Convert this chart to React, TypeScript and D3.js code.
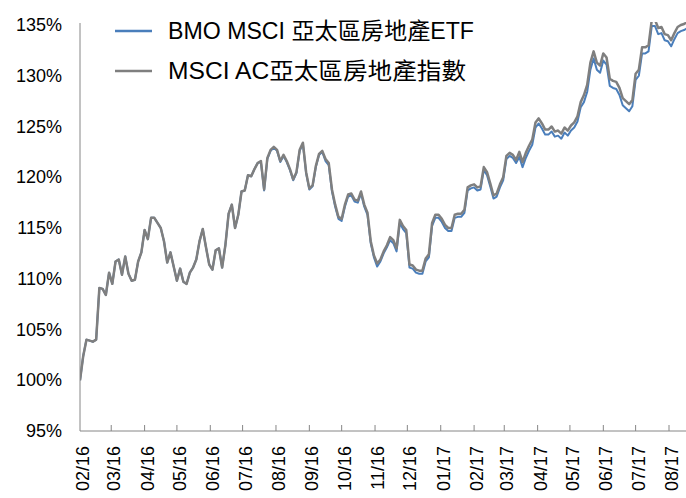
import * as d3 from "d3";
import { useEffect, useRef } from "react";

// sampled every 3 calendar days from 2016-02-01
const START = "2016-02-01";
const STEP_DAYS = 3;

const indexValues = [
  100.0, 102.4, 104.0, 103.9, 103.8, 104.0, 109.1, 109.0, 108.4, 110.6,
  109.5, 111.7, 111.9, 110.4, 112.2, 110.5, 109.8, 109.9, 111.7, 112.6,
  114.8, 113.9, 116.0, 116.0, 115.5, 115.0, 113.7, 111.6, 112.6, 111.2,
  109.8, 111.0, 109.7, 109.5, 110.6, 111.1, 111.9, 113.7, 114.9, 113.1,
  111.4, 110.9, 112.8, 113.0, 111.1, 113.3, 116.4, 117.3, 115.0, 116.3,
  118.6, 118.7, 120.2, 120.1, 120.8, 121.4, 121.6, 118.8, 121.9, 122.7,
  123.0, 122.7, 121.6, 122.2, 121.6, 120.8, 119.8, 120.5, 122.7, 123.4,
  120.5, 118.9, 119.2, 121.1, 122.3, 122.6, 121.8, 121.4, 118.8, 117.3,
  116.1, 115.9, 117.3, 118.3, 118.4, 117.8, 117.7, 118.6, 117.3, 116.5,
  113.7, 112.3, 111.5, 111.9, 112.7, 113.3, 114.1, 113.8, 113.0, 115.8,
  115.2, 114.8, 111.4, 111.3, 110.9, 110.8, 110.8, 112.0, 112.4, 115.5,
  116.3, 116.3, 115.9, 115.3, 115.0, 115.0, 116.3, 116.4, 116.4, 116.8,
  119.0, 119.2, 119.3, 119.0, 119.1, 121.0, 120.5, 119.4, 118.2, 118.4,
  119.3, 120.0, 122.1, 122.4, 122.2, 121.7, 122.5, 121.5, 122.4, 123.1,
  123.7, 125.4, 125.8, 125.3, 124.7, 124.7, 125.0, 124.5, 124.6, 124.3,
  124.9, 124.6, 125.1, 125.4, 126.0, 127.4, 128.1, 129.1, 131.3, 132.4,
  131.3, 131.0, 132.2, 131.8, 129.7, 129.5, 129.4, 128.8, 127.8, 127.5,
  127.2, 127.6, 130.2, 130.6, 132.8, 132.8, 133.0, 135.5, 135.5, 134.7,
  134.8, 134.1, 134.0, 133.5, 134.2, 134.8, 135.0, 135.1, 135.3,
];

const etfValues = [
  100.0, 102.4, 104.0, 103.9, 103.8, 104.0, 109.1, 109.0, 108.4, 110.6,
  109.5, 111.7, 111.9, 110.4, 112.2, 110.5, 109.8, 109.9, 111.7, 112.6,
  114.8, 113.9, 116.0, 116.0, 115.5, 115.0, 113.7, 111.6, 112.6, 111.2,
  109.8, 111.0, 109.7, 109.5, 110.6, 111.1, 111.9, 113.7, 114.9, 113.1,
  111.4, 110.9, 112.8, 113.0, 111.1, 113.3, 116.4, 117.3, 115.0, 116.3,
  118.6, 118.7, 120.2, 120.1, 120.8, 121.4, 121.5, 118.7, 121.8, 122.6,
  122.9, 122.6, 121.5, 122.1, 121.5, 120.7, 119.7, 120.4, 122.6, 123.3,
  120.4, 118.8, 119.1, 121.0, 122.2, 122.5, 121.6, 121.2, 118.6, 117.1,
  115.9, 115.7, 117.1, 118.1, 118.2, 117.6, 117.5, 118.4, 117.1, 116.3,
  113.5, 112.1, 111.2, 111.7, 112.5, 113.1, 113.8, 113.5, 112.7, 115.5,
  114.9, 114.5, 111.1, 111.0, 110.6, 110.5, 110.5, 111.7, 112.1, 115.2,
  116.0, 116.0, 115.6, 115.0, 114.7, 114.7, 116.0, 116.1, 116.1, 116.5,
  118.7, 118.9, 119.0, 118.7, 118.8, 120.7, 120.2, 119.1, 117.9, 118.1,
  119.0, 119.7, 121.8, 122.1, 121.9, 121.4, 122.0, 121.0, 121.9, 122.6,
  123.2, 124.9, 125.3, 124.8, 124.2, 124.2, 124.5, 124.0, 124.1, 123.8,
  124.4, 124.1, 124.6, 124.9, 125.5, 126.9, 127.4, 128.4, 130.6, 131.7,
  130.6, 130.3, 131.5, 131.1, 129.0, 128.8, 128.7, 128.1, 127.1, 126.8,
  126.5, 127.0, 129.6, 130.0, 132.2, 132.2, 132.4, 134.9, 134.9, 134.1,
  134.2, 133.5, 133.4, 132.9, 133.6, 134.2, 134.4, 134.5, 134.7,
];

const yTicks = [95, 100, 105, 110, 115, 120, 125, 130, 135];
const seriesNames = ["BMO MSCI 亞太區房地產ETF", "MSCI AC亞太區房地產指數"];
const seriesColors = ["#4a7ebb", "#7f7f7f"];

const FONT = '"Liberation Sans", Arial, "Noto Sans CJK TC", sans-serif';

export default function App() {
  const ref = useRef(null);
  const width = 686;
  const height = 498;
  const margin = { top: 25, right: 0, bottom: 67, left: 80 };

  useEffect(() => {
    const svg = d3.select(ref.current);
    svg.selectAll("*").remove();

    const start = d3.timeParse("%Y-%m-%d")(START);
    const dates = etfValues.map((_, i) => d3.timeDay.offset(start, i * STEP_DAYS));

    const x = d3
      .scaleTime()
      .domain([start, new Date(2017, 7, 1)])
      .range([margin.left, 669]);
    const y = d3
      .scaleLinear()
      .domain([95, 135])
      .range([height - margin.bottom, margin.top]);

    svg
      .append("clipPath")
      .attr("id", "plot")
      .append("rect")
      .attr("x", margin.left)
      .attr("y", margin.top - 3)
      .attr("width", width - margin.left)
      .attr("height", height - margin.bottom - margin.top + 3);

    const line = d3
      .line()
      .x((d) => x(d[0]))
      .y((d) => y(d[1]));

    const g = svg.append("g").attr("clip-path", "url(#plot)");
    [etfValues, indexValues].forEach((vals, k) => {
      g.append("path")
        .datum(vals.map((v, i) => [dates[i], v]))
        .attr("fill", "none")
        .attr("stroke", seriesColors[k])
        .attr("stroke-width", k === 0 ? 2 : 2.5)
        .attr("stroke-linejoin", "round")
        .attr("d", line);
    });

    // y axis
    const axisColor = "#868686";
    svg
      .append("line")
      .attr("x1", margin.left)
      .attr("x2", margin.left)
      .attr("y1", margin.top - 2)
      .attr("y2", y(95))
      .attr("stroke", axisColor);
    svg
      .append("g")
      .selectAll("text")
      .data(yTicks)
      .join("text")
      .attr("x", 62)
      .attr("y", (d) => y(d))
      .attr("text-anchor", "end")
      .attr("dominant-baseline", "central")
      .attr("font-family", FONT)
      .attr("font-size", 18)
      .attr("fill", "#000")
      .text((d) => d + "%");

    // x axis
    svg
      .append("line")
      .attr("x1", margin.left)
      .attr("x2", width)
      .attr("y1", y(95))
      .attr("y2", y(95))
      .attr("stroke", axisColor);
    const tickMonths = d3.timeMonth.range(new Date(2016, 2, 1), new Date(2017, 7, 2));
    svg
      .append("g")
      .selectAll("line")
      .data(tickMonths)
      .join("line")
      .attr("x1", (d) => x(d))
      .attr("x2", (d) => x(d))
      .attr("y1", y(95))
      .attr("y2", y(95) - 6)
      .attr("stroke", axisColor);
    const labelMonths = d3.timeMonth.range(new Date(2016, 1, 1), new Date(2017, 7, 2));
    const fmt = d3.timeFormat("%m/%y");
    svg
      .append("g")
      .selectAll("text")
      .data(labelMonths)
      .join("text")
      .attr("transform", (d) => `translate(${x(d) + 3},${y(95) + 15}) rotate(-90)`)
      .attr("text-anchor", "end")
      .attr("dominant-baseline", "central")
      .attr("font-family", FONT)
      .attr("font-size", 18)
      .attr("fill", "#000")
      .text((d) => fmt(d));

    // legend
    const legendWidths = [306, 298];
    seriesNames.forEach((name, k) => {
      const ly = 31 + k * 40;
      svg
        .append("line")
        .attr("x1", 115)
        .attr("x2", 152)
        .attr("y1", ly)
        .attr("y2", ly)
        .attr("stroke", seriesColors[k])
        .attr("stroke-width", 2.5);
      svg
        .append("text")
        .attr("x", 168)
        .attr("y", ly + 8)
        .attr("font-family", FONT)
        .attr("font-size", 23)
        .attr("fill", "#000")
        .attr("textLength", legendWidths[k])
        .attr("lengthAdjust", "spacingAndGlyphs")
        .text(name);
    });
  }, []);

  return (
    <svg
      ref={ref}
      width={width}
      height={height}
      style={{ position: "absolute", left: 0, top: 0, background: "#fff" }}
    ></svg>
  );
}
